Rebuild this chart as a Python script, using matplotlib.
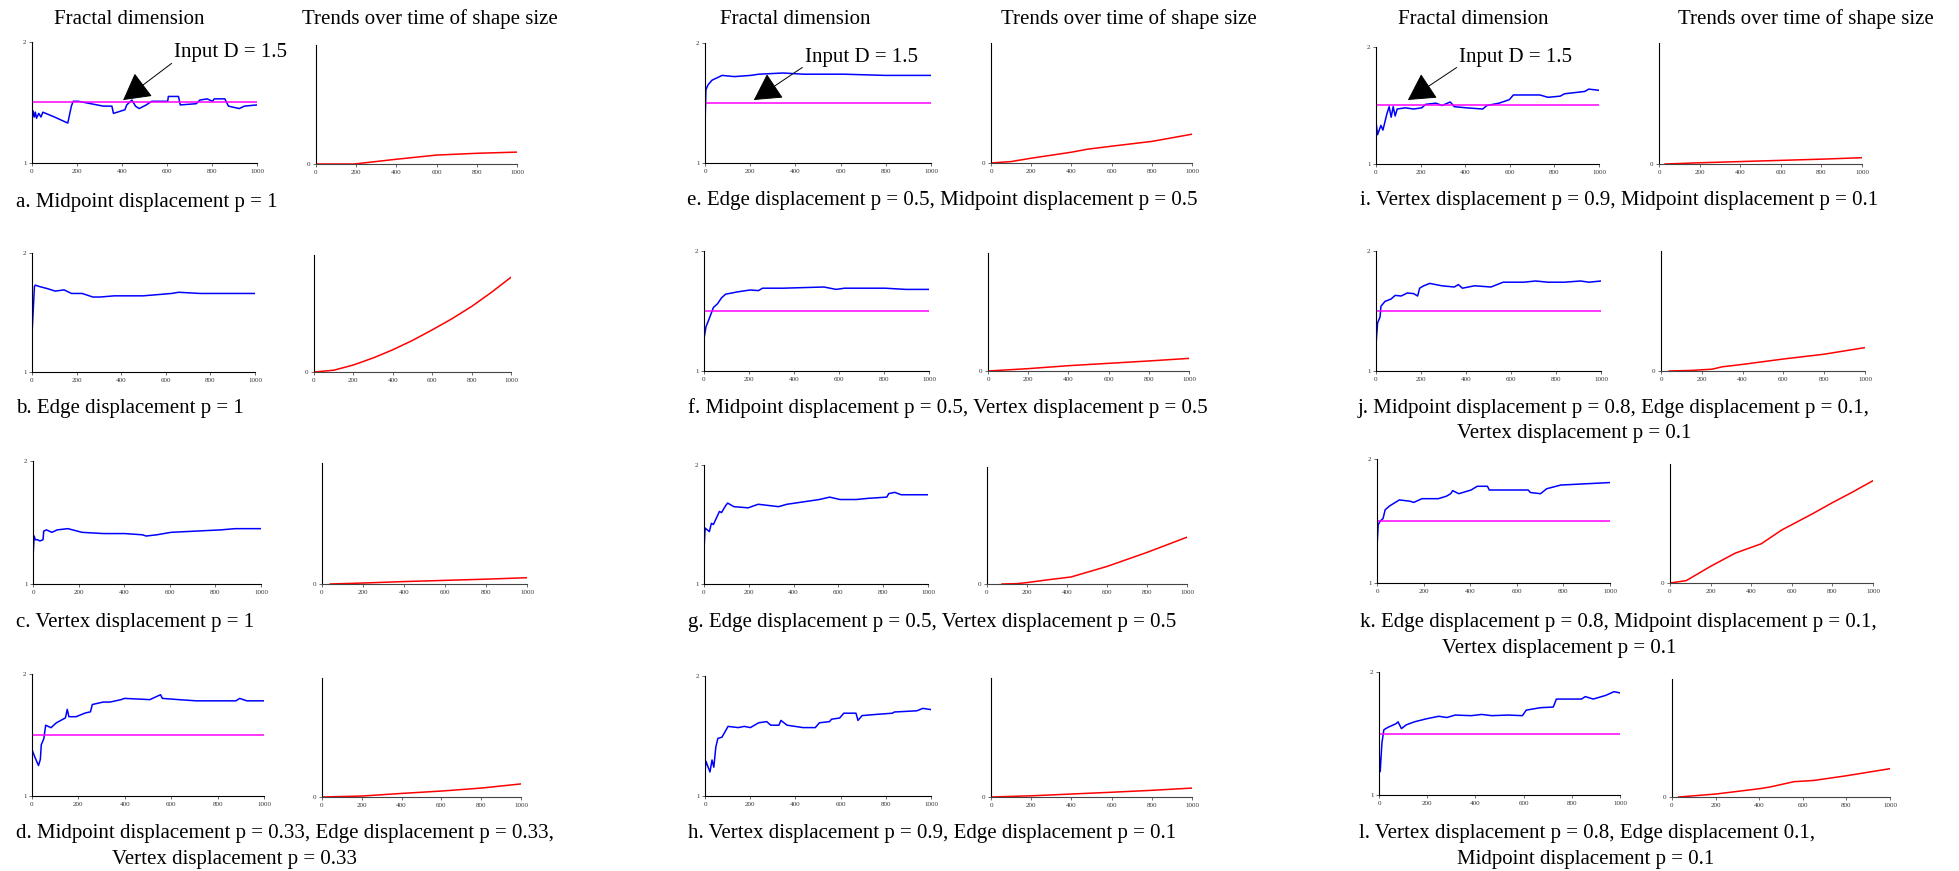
import matplotlib
matplotlib.use('Agg')
import matplotlib.pyplot as plt

W, H = 1959, 871
SERIF = ['Liberation Serif', 'DejaVu Serif']

# ---- fractal dimension series (x = time step, y = estimated D) ----
frac_x_a = [0, 5, 10, 15, 20, 30, 40, 48, 100, 159, 175, 183, 206, 317, 355, 362, 413, 421, 444, 460, 476, 508, 532, 603, 606, 651, 659, 730, 746, 778, 802, 810, 857, 873, 921, 944, 1000]
frac_y_a = [1.35, 1.43, 1.38, 1.42, 1.37, 1.41, 1.38, 1.42, 1.38, 1.33, 1.47, 1.51, 1.51, 1.47, 1.47, 1.41, 1.44, 1.48, 1.52, 1.47, 1.45, 1.48, 1.51, 1.51, 1.55, 1.55, 1.48, 1.49, 1.52, 1.53, 1.51, 1.53, 1.53, 1.47, 1.45, 1.47, 1.48]
frac_x_b = [0, 11, 15, 30, 50, 70, 104, 144, 177, 225, 273, 305, 369, 433, 498, 626, 658, 754, 1000]
frac_y_b = [1.32, 1.72, 1.73, 1.72, 1.71, 1.70, 1.68, 1.69, 1.66, 1.66, 1.63, 1.63, 1.64, 1.64, 1.64, 1.66, 1.67, 1.66, 1.66]
frac_x_c = [0, 5, 10, 20, 30, 44, 47, 59, 83, 106, 153, 215, 309, 402, 480, 496, 543, 605, 714, 824, 886, 1000]
frac_y_c = [1.22, 1.39, 1.36, 1.36, 1.35, 1.36, 1.43, 1.44, 1.42, 1.44, 1.45, 1.42, 1.41, 1.41, 1.40, 1.39, 1.40, 1.42, 1.43, 1.44, 1.45, 1.45]
frac_x_d = [0, 12, 28, 36, 40, 51, 59, 82, 105, 144, 152, 159, 190, 229, 252, 260, 307, 337, 384, 399, 508, 554, 562, 632, 709, 879, 895, 926, 1000]
frac_y_d = [1.38, 1.32, 1.25, 1.30, 1.42, 1.47, 1.58, 1.56, 1.60, 1.64, 1.71, 1.65, 1.65, 1.68, 1.69, 1.75, 1.77, 1.77, 1.79, 1.80, 1.79, 1.83, 1.80, 1.79, 1.78, 1.78, 1.80, 1.78, 1.78]
frac_x_e = [0, 4, 13, 31, 76, 130, 202, 238, 346, 436, 616, 796, 1000]
frac_y_e = [1.31, 1.61, 1.65, 1.69, 1.73, 1.72, 1.73, 1.74, 1.75, 1.74, 1.74, 1.73, 1.73]
frac_x_f = [0, 9, 24, 42, 60, 78, 96, 151, 205, 242, 260, 351, 533, 587, 624, 805, 896, 1000]
frac_y_f = [1.27, 1.37, 1.44, 1.53, 1.56, 1.61, 1.64, 1.66, 1.675, 1.67, 1.69, 1.69, 1.70, 1.68, 1.69, 1.69, 1.68, 1.68]
frac_x_g = [0, 5, 24, 33, 42, 69, 78, 97, 106, 133, 197, 242, 333, 370, 443, 515, 561, 607, 679, 734, 816, 825, 852, 880, 1000]
frac_y_g = [1.29, 1.47, 1.44, 1.51, 1.50, 1.61, 1.60, 1.66, 1.68, 1.65, 1.64, 1.67, 1.65, 1.67, 1.69, 1.71, 1.73, 1.71, 1.71, 1.72, 1.73, 1.76, 1.77, 1.75, 1.75]
frac_x_h = [0, 4, 22, 31, 39, 48, 57, 75, 93, 102, 147, 174, 201, 237, 273, 291, 327, 336, 363, 434, 488, 506, 551, 560, 596, 614, 668, 677, 695, 758, 829, 838, 937, 964, 1000]
frac_y_h = [1.20, 1.29, 1.20, 1.30, 1.24, 1.41, 1.48, 1.49, 1.55, 1.58, 1.57, 1.58, 1.57, 1.61, 1.62, 1.59, 1.59, 1.63, 1.59, 1.57, 1.57, 1.61, 1.62, 1.64, 1.65, 1.69, 1.69, 1.63, 1.67, 1.68, 1.69, 1.70, 1.71, 1.73, 1.72]
frac_x_i = [0, 7, 22, 31, 40, 49, 59, 68, 77, 86, 95, 132, 168, 205, 223, 269, 296, 333, 351, 406, 479, 497, 552, 598, 616, 735, 771, 826, 845, 936, 954, 1000]
frac_y_i = [1.36, 1.25, 1.33, 1.29, 1.36, 1.43, 1.49, 1.40, 1.49, 1.41, 1.47, 1.48, 1.47, 1.48, 1.51, 1.52, 1.50, 1.53, 1.49, 1.48, 1.47, 1.50, 1.52, 1.55, 1.59, 1.59, 1.57, 1.58, 1.60, 1.62, 1.64, 1.63]
frac_x_j = [0, 7, 18, 22, 40, 67, 85, 112, 139, 167, 185, 194, 212, 239, 293, 348, 366, 384, 438, 511, 565, 656, 710, 764, 837, 909, 946, 1000]
frac_y_j = [1.22, 1.40, 1.45, 1.54, 1.58, 1.60, 1.63, 1.625, 1.65, 1.645, 1.625, 1.69, 1.71, 1.73, 1.71, 1.70, 1.72, 1.69, 1.71, 1.70, 1.74, 1.74, 1.75, 1.74, 1.74, 1.75, 1.74, 1.75]
frac_x_k = [0, 5, 14, 26, 35, 53, 70, 96, 140, 158, 193, 263, 298, 316, 325, 351, 404, 430, 474, 482, 649, 658, 702, 728, 789, 895, 1000]
frac_y_k = [1.29, 1.47, 1.50, 1.52, 1.59, 1.62, 1.64, 1.67, 1.66, 1.65, 1.68, 1.68, 1.70, 1.72, 1.745, 1.72, 1.75, 1.78, 1.78, 1.75, 1.75, 1.73, 1.72, 1.76, 1.79, 1.80, 1.81]
frac_x_l = [0, 5, 12, 20, 37, 71, 79, 93, 113, 147, 198, 248, 282, 316, 383, 426, 468, 535, 595, 611, 671, 723, 736, 772, 840, 856, 889, 941, 975, 1000]
frac_y_l = [1.36, 1.19, 1.42, 1.53, 1.55, 1.58, 1.595, 1.54, 1.57, 1.595, 1.62, 1.64, 1.63, 1.65, 1.645, 1.655, 1.645, 1.65, 1.645, 1.69, 1.71, 1.715, 1.78, 1.78, 1.78, 1.80, 1.78, 1.81, 1.84, 1.83]

# ---- shape size trend series (y as share of the panel height) ----
trend_x_a = [0, 190, 400, 600, 800, 1000]
trend_y_a = [0, 0, 0.04, 0.075, 0.09, 0.10]
trend_x_b = [0, 100, 200, 300, 400, 500, 600, 700, 800, 900, 1000]
trend_y_b = [0, 0.015, 0.06, 0.12, 0.19, 0.27, 0.36, 0.455, 0.56, 0.68, 0.81]
trend_x_c = [40, 200, 400, 600, 800, 1000]
trend_y_c = [0, 0.008, 0.02, 0.03, 0.04, 0.052]
trend_x_d = [0, 200, 400, 600, 800, 1000]
trend_y_d = [0, 0.008, 0.03, 0.05, 0.075, 0.11]
trend_x_e = [0, 100, 200, 300, 400, 480, 600, 800, 1000]
trend_y_e = [0, 0.012, 0.04, 0.065, 0.09, 0.115, 0.14, 0.18, 0.24]
trend_x_f = [0, 200, 400, 600, 800, 1000]
trend_y_f = [0, 0.02, 0.045, 0.065, 0.085, 0.107]
trend_x_g = [75, 150, 200, 300, 420, 500, 600, 700, 800, 900, 1000]
trend_y_g = [0, 0.003, 0.012, 0.035, 0.06, 0.10, 0.15, 0.21, 0.27, 0.335, 0.40]
trend_x_h = [0, 200, 400, 600, 800, 1000]
trend_y_h = [0, 0.01, 0.025, 0.04, 0.056, 0.075]
trend_x_i = [30, 200, 400, 600, 800, 1000]
trend_y_i = [0, 0.01, 0.02, 0.03, 0.04, 0.052]
trend_x_j = [40, 150, 250, 300, 400, 600, 800, 1000]
trend_y_j = [0, 0.005, 0.015, 0.035, 0.055, 0.10, 0.14, 0.195]
trend_x_k = [0, 80, 150, 200, 320, 450, 550, 600, 700, 800, 900, 1000]
trend_y_k = [0, 0.02, 0.09, 0.14, 0.25, 0.33, 0.445, 0.49, 0.58, 0.675, 0.765, 0.86]
trend_x_l = [30, 200, 400, 450, 560, 650, 800, 1000]
trend_y_l = [0, 0.025, 0.07, 0.085, 0.13, 0.14, 0.18, 0.24]

input_d = 1.5
x_ticks = [0, 200, 400, 600, 800, 1000]
# panels that show the input-D reference line
with_input_line = 'adefijkl'

captions = {
    'a': ["a. Midpoint displacement p = 1"],
    'b': ["b. Edge displacement p = 1"],
    'c': ["c. Vertex displacement p = 1"],
    'd': ["d. Midpoint displacement p = 0.33, Edge displacement p = 0.33,", "Vertex displacement p = 0.33"],
    'e': ["e. Edge displacement p = 0.5, Midpoint displacement p = 0.5"],
    'f': ["f. Midpoint displacement p = 0.5, Vertex displacement p = 0.5"],
    'g': ["g. Edge displacement p = 0.5, Vertex displacement p = 0.5"],
    'h': ["h. Vertex displacement p = 0.9, Edge displacement p = 0.1"],
    'i': ["i. Vertex displacement p = 0.9, Midpoint displacement p = 0.1"],
    'j': ["j. Midpoint displacement p = 0.8, Edge displacement p = 0.1,", "Vertex displacement p = 0.1"],
    'k': ["k. Edge displacement p = 0.8, Midpoint displacement p = 0.1,", "Vertex displacement p = 0.1"],
    'l': ["l. Vertex displacement p = 0.8, Edge displacement 0.1,", "Midpoint displacement p = 0.1"],
}

# pixel boxes (left, right, top, bottom) for fractal / trend axes
frac_box = {
    'a': (32, 257, 42, 163), 'b': (32, 255, 253, 372), 'c': (33, 261, 461, 584), 'd': (32, 264, 674, 796),
    'e': (705, 931, 43, 163), 'f': (704, 929, 251, 371), 'g': (704, 928, 465, 584), 'h': (705, 931, 676, 796),
    'i': (1376, 1599, 47, 164), 'j': (1376, 1601, 251, 371), 'k': (1377, 1610, 459, 583), 'l': (1379, 1620, 672, 795),
}
trend_box = {
    'a': (316, 517, 45, 164), 'b': (314, 511, 255, 372), 'c': (322, 527, 463, 584), 'd': (322, 521, 678, 797),
    'e': (991, 1192, 43, 163), 'f': (988, 1189, 253, 371), 'g': (987, 1187, 467, 584), 'h': (991, 1192, 678, 797),
    'i': (1659, 1862, 43, 164), 'j': (1661, 1865, 251, 371), 'k': (1670, 1873, 464, 583), 'l': (1672, 1890, 679, 797),
}
# caption positions: (x line1, y line1, x line2, y line2)
cap_pos = {
    'a': (16, 202), 'b': (16, 408), 'c': (16, 622), 'd': (16, 833, 112, 859),
    'e': (687, 200), 'f': (688, 408), 'g': (688, 622), 'h': (688, 833),
    'i': (1360, 200), 'j': (1358, 408, 1457, 433), 'k': (1360, 623, 1442, 648), 'l': (1359, 833, 1457, 859),
}
# arrow annotations: tip (x, y) and text start (x, y) in data units
arrows = {
    'a': ((405, 1.52), (633, 1.91)),
    'e': ((216, 1.525), (443, 1.88)),
    'i': ((143, 1.547), (374, 1.91)),
}

FS = 15
data = globals()
fig = plt.figure(figsize=(W / 100, H / 100), dpi=100)


def box_axes(b):
    l, r, t, bt = b
    return fig.add_axes([l / W, 1 - bt / H, (r - l) / W, (bt - t) / H])


def style(ax, yticks):
    for s in ['top', 'right']:
        ax.spines[s].set_visible(False)
    ax.spines['left'].set_linewidth(0.8)
    ax.spines['bottom'].set_linewidth(0.8)
    ax.set_xlim(0, 1000)
    ax.set_xticks(x_ticks)
    ax.set_yticks(yticks)
    ax.tick_params(length=2, width=0.5, pad=2, labelsize=5, colors='#333333')
    for lab in ax.get_xticklabels() + ax.get_yticklabels():
        lab.set_family(SERIF)


for k in 'abcdefghijkl':
    ax = box_axes(frac_box[k])
    ax.plot(data['frac_x_' + k], data['frac_y_' + k], color='#0000ff', lw=1.1)
    if k in with_input_line:
        ax.plot([0, 1000], [input_d, input_d], color='#ff00ff', lw=1.1)
    ax.set_ylim(1, 2)
    style(ax, [1, 2])
    if k in arrows:
        tip, txt = arrows[k]
        ax.annotate("Input D = 1.5", xy=tip, xytext=txt, fontsize=FS, family=SERIF,
                    ha='left', va='center', annotation_clip=False,
                    arrowprops=dict(arrowstyle='-|>,head_length=0.9,head_width=0.5', color='black',
                                    lw=0.7, mutation_scale=19, relpos=(0.02, 0.15), shrinkA=0, shrinkB=0))

    ax2 = box_axes(trend_box[k])
    ax2.plot(data['trend_x_' + k], data['trend_y_' + k], color='#ff0000', lw=1.1)
    ax2.set_ylim(0, 1)
    style(ax2, [0])
    ax2.spines['bottom'].set_color('#444444')

    p = cap_pos[k]
    lines = captions[k]
    fig.text(p[0] / W, 1 - p[1] / H, lines[0], fontsize=FS, family=SERIF, ha='left', va='center')
    if len(lines) > 1:
        fig.text(p[2] / W, 1 - p[3] / H, lines[1], fontsize=FS, family=SERIF, ha='left', va='center')

# column headings
for cx in [129, 795, 1473]:
    fig.text(cx / W, 1 - 19 / H, "Fractal dimension", fontsize=FS, family=SERIF, ha='center', va='center')
for cx in [430, 1129, 1806]:
    fig.text(cx / W, 1 - 19 / H, "Trends over time of shape size", fontsize=FS, family=SERIF, ha='center', va='center')

fig.savefig('out.png', dpi=100)
